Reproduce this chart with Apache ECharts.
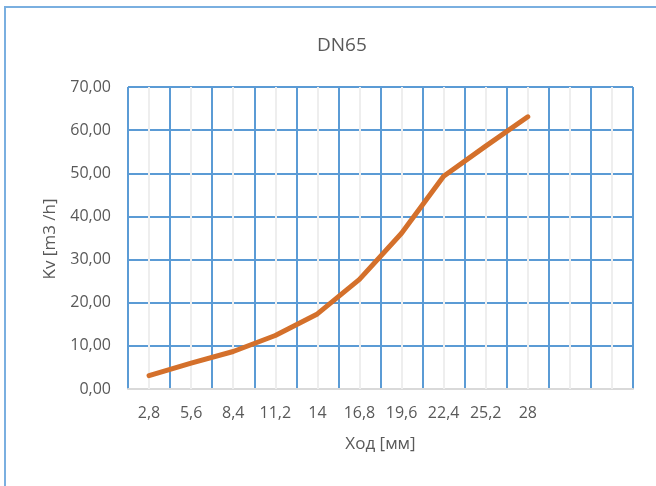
<!DOCTYPE html>
<html>
<head>
<meta charset="utf-8">
<title>DN65</title>
<script src="https://cdn.jsdelivr.net/npm/echarts@6/dist/echarts.min.js"></script>
<style>
  html, body { margin: 0; padding: 0; background: #ffffff; }
  #chart { width: 656px; height: 486px; }
</style>
</head>
<body>
<div id="chart"></div>
<script>
// Stroke (mm) categories; the two trailing blanks keep the empty grid columns
const strokeLabels = ['2,8', '5,6', '8,4', '11,2', '14', '16,8', '19,6', '22,4', '25,2', '28', '', ''];
// Flow coefficient Kv, m3/h
const kvValues = [3.1, 6.0, 8.7, 12.4, 17.4, 25.4, 36.1, 49.3, 56.3, 63.1];
// Value axis ticks
const kvTicks = { min: 0, max: 70, step: 10 };

const FONT = '"Open Sans", "Noto Sans", sans-serif';
const TEXT = '#595959';
const GRID_BLUE = '#5b9bd5';

const chart = echarts.init(document.getElementById('chart'), null, { renderer: 'canvas' });

chart.setOption({
  backgroundColor: '#ffffff',
  animation: false,
  title: {
    text: 'DN65',
    left: 317,
    top: 36,
    padding: 0,
    textStyle: { fontFamily: FONT, fontSize: 19, fontWeight: 'normal', color: TEXT }
  },
  grid: { left: 128, right: 23, top: 87, bottom: 97, containLabel: false },
  xAxis: [
    {
      type: 'category',
      data: strokeLabels,
      boundaryGap: true,
      axisLine: { show: true, lineStyle: { color: '#d9d9d9', width: 2 } },
      axisTick: { show: false },
      axisLabel: { interval: 0, margin: 16, fontFamily: FONT, fontSize: 16, color: TEXT },
      splitLine: { show: true, lineStyle: { color: GRID_BLUE, width: 2 } },
      name: 'Ход [мм]',
      nameLocation: 'middle',
      nameGap: 47,
      nameTextStyle: { fontFamily: FONT, fontSize: 17, color: TEXT },
      z: 2
    },
    {
      // light column-centre lines
      type: 'value',
      min: 0,
      max: strokeLabels.length,
      interval: 1,
      show: true,
      position: 'bottom',
      axisLine: { show: false },
      axisTick: { show: false },
      axisLabel: { show: false },
      splitLine: { show: false },
      minorTick: { show: false, splitNumber: 2 },
      minorSplitLine: { show: true, lineStyle: { color: '#eeeeee', width: 2 } },
      z: 3
    }
  ],
  yAxis: {
    type: 'value',
    min: kvTicks.min,
    max: kvTicks.max,
    interval: kvTicks.step,
    axisLine: { show: false },
    axisTick: { show: false },
    axisLabel: {
      margin: 17,
      fontFamily: FONT,
      fontSize: 16,
      color: TEXT,
      formatter: v => v.toFixed(2).replace('.', ',')
    },
    splitLine: { show: true, lineStyle: { color: GRID_BLUE, width: 2 } },
    z: 1
  },
  graphic: [
    {
      type: 'rect',
      shape: { x: 5, y: 7, width: 720, height: 560 },
      style: { fill: 'none', stroke: '#7aafe0', lineWidth: 2 },
      silent: true,
      z: 100
    },
    {
      type: 'text',
      x: 50,
      y: 239,
      rotation: Math.PI / 2,
      style: {
        text: 'Kv [m3 /h]',
        align: 'center',
        verticalAlign: 'middle',
        fontFamily: FONT,
        fontSize: 17,
        fill: TEXT
      },
      silent: true
    }
  ],
  series: [
    {
      type: 'line',
      xAxisIndex: 0,
      data: kvValues,
      showSymbol: false,
      symbol: 'none',
      lineStyle: { color: '#d4702b', width: 5, cap: 'round', join: 'round' },
      z: 10
    }
  ]
});
</script>
</body>
</html>
